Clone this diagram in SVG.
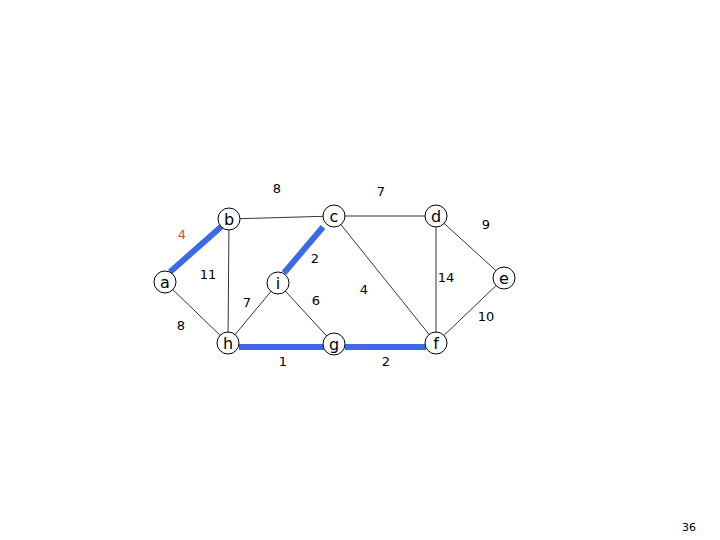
<svg xmlns="http://www.w3.org/2000/svg" width="720" height="540" viewBox="0 0 720 540">
<style>
.n circle{fill:#fff;stroke:#000;stroke-width:1}
text{font-family:"DejaVu Sans",sans-serif;font-size:13px;fill:#000;text-anchor:middle}
.n text{font-size:16px}
.e line{stroke:#000;stroke-width:0.8}
.e line.m{stroke:#3a6ae8;stroke-width:6}
</style>
<rect width="720" height="540" fill="#fff"/>
<g id="edges" class="e">
<line x1="229" y1="219" x2="334" y2="216"/>
<line x1="334" y1="216" x2="436" y2="216"/>
<line x1="436" y1="216" x2="504" y2="278"/>
<line x1="504" y1="278" x2="436" y2="343"/>
<line x1="436" y1="216" x2="436" y2="343"/>
<line x1="334" y1="216" x2="436" y2="343"/>
<line x1="229" y1="219" x2="228" y2="343"/>
<line x1="165" y1="282" x2="228" y2="343"/>
<line x1="278" y1="283" x2="228" y2="343"/>
<line x1="278" y1="283" x2="334" y2="344"/>
<line class="m" x1="170" y1="272" x2="222" y2="226"/>
<line class="m" x1="323" y1="227" x2="284" y2="273"/>
<line class="m" x1="239" y1="347" x2="324" y2="347"/>
<line class="m" x1="345" y1="347" x2="426" y2="347"/>
</g>
<g id="labels">
<text x="277" y="193">8</text>
<text x="381" y="196">7</text>
<text x="486" y="229">9</text>
<text x="182" y="239" fill="#c0502a" style="fill:#c0502a">4</text>
<text x="315" y="263">2</text>
<text x="208" y="279">11</text>
<text x="446" y="282">14</text>
<text x="364" y="294">4</text>
<text x="247" y="307">7</text>
<text x="316" y="305">6</text>
<text x="486" y="321">10</text>
<text x="181" y="330">8</text>
<text x="283" y="366">1</text>
<text x="386" y="366">2</text>
<text x="689" y="531" style="font-size:11px">36</text>
</g>
<g id="a" class="n"><circle cx="165" cy="282" r="11"/><text x="165" y="288">a</text></g>
<g id="b" class="n"><circle cx="229" cy="219" r="11"/><text x="229" y="225">b</text></g>
<g id="c" class="n"><circle cx="334" cy="216" r="11"/><text x="334" y="222">c</text></g>
<g id="d" class="n"><circle cx="436" cy="216" r="11"/><text x="436" y="222">d</text></g>
<g id="e" class="n"><circle cx="504" cy="278" r="11"/><text x="504" y="284">e</text></g>
<g id="i" class="n"><circle cx="278" cy="283" r="11"/><text x="278" y="289">i</text></g>
<g id="h" class="n"><circle cx="228" cy="343" r="11"/><text x="228" y="349">h</text></g>
<g id="g" class="n"><circle cx="334" cy="344" r="11"/><text x="334" y="350">g</text></g>
<g id="f" class="n"><circle cx="436" cy="343" r="11"/><text x="436" y="349">f</text></g>
</svg>
